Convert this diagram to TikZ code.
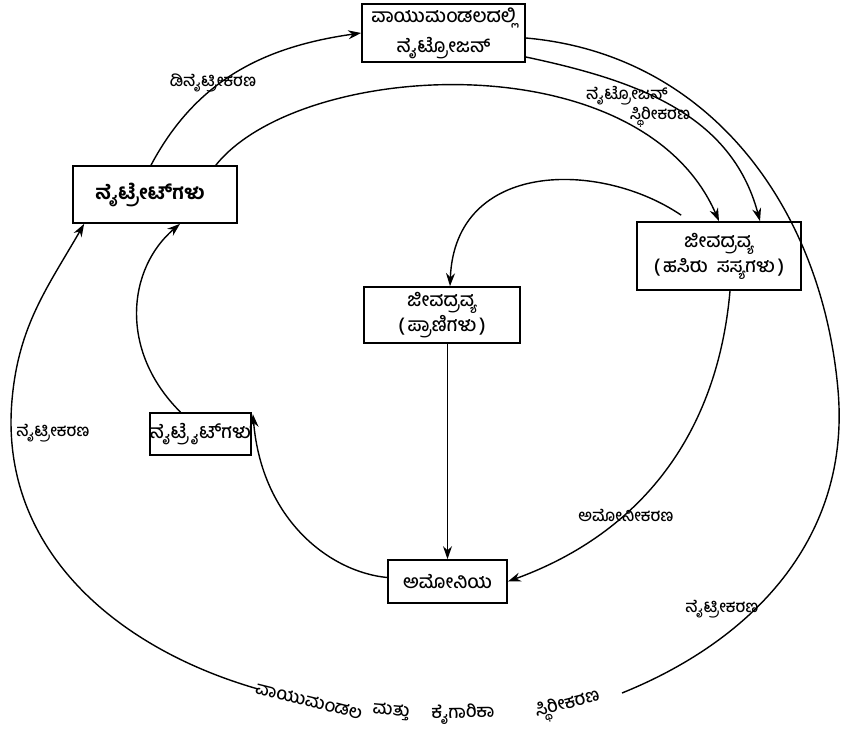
\documentclass[tikz,border=0pt]{standalone}
\usepackage{fontspec}
\newfontfamily\kn[Script=Kannada, UprightFont=* Medium, BoldFont=* Bold]{Hind Mysuru}
\usetikzlibrary{arrows.meta, positioning, calc}

\begin{document}
\begin{tikzpicture}[x=1pt, y=1pt,
    box/.style={draw=black, line width=1.7pt, align=center, inner sep=0pt, font=\kn\fontsize{19}{25}\selectfont},
    lbl/.style={font=\kn\fontsize{16.5}{20}\selectfont, inner sep=1pt},
    arc/.style={font=\kn\fontsize{18}{20}\selectfont, inner sep=0pt},
    flow/.style={-{Stealth[length=13pt, width=9pt]}, line width=1.4pt}]
  \useasboundingbox (0,0) rectangle (842,-738);

  % Boxes
  \node[box, minimum width=163pt, minimum height=58pt] (atmos) at (443.5,-33) {ವಾಯುಮಂಡಲದಲ್ಲಿ\\[5pt]ನೈಟ್ರೋಜನ್};
  \node[box, minimum width=164pt, minimum height=57pt, font=\kn\bfseries\fontsize{19.5}{24}\selectfont] (nitrates) at (155,-194.5) {ನೈಟ್ರೇಟ್‌ಗಳು\hspace{10pt}};
  \node[box, minimum width=164pt, minimum height=68pt] (plants) at (719,-256) {ಜೀವದ್ರವ್ಯ\\(\,ಹಸಿರು\hspace{9pt}ಸಸ್ಯಗಳು\,)};
  \node[box, minimum width=156pt, minimum height=56pt] (animals) at (442,-315) {ಜೀವದ್ರವ್ಯ\\(\,ಪ್ರಾಣಿಗಳು\,)};
  \node[box, minimum width=97pt, minimum height=42pt] (nitrites) at (200.5,-434) {ನೈಟ್ರೈಟ್‌ಗಳು};
  \node[box, minimum width=119pt, minimum height=43pt] (ammonia) at (447.5,-581.5) {ಅಮೋನಿಯ};

  % Labels
  \node[lbl] (deni) at (213,-83) {ಡಿನೈಟ್ರೀಕರಣ};
  \node[lbl] (fixa) at (627,-96) {ನೈಟ್ರೋಜನ್};
  \node[lbl] (fixb) at (660,-117) {ಸ್ಥಿರೀಕರಣ};
  \node[lbl] (nitleft) at (53,-433) {ನೈಟ್ರೀಕರಣ};
  \node[lbl] (amfy) at (626,-515) {ಅಮೋನೀಕರಣ};
  \node[lbl] (nitright) at (722,-609) {ನೈಟ್ರೀಕರಣ};

  % Outer cycle, broken by its label at the bottom
  \coordinate (gapR) at (622,-693);
  \coordinate (gapL) at (258,-689);
  \draw[line width=1.4pt] ($(atmos.east)+(0,-5)$) to[out=-5,in=95] (838,-390) to[out=-85,in=22] (gapR);
  \draw[flow] (gapL) to[out=164,in=-95] (12,-400) to[out=85,in=-120] ($(nitrates.south west)+(12,0)$);
  \node[arc, rotate=-14] (ind1) at (309,-701) {ವಾಯುಮಂಡಲ};
  \node[arc, rotate=-5] (ind2) at (391,-712) {ಮತ್ತು};
  \node[arc, rotate=1] (ind3) at (463,-714) {ಕೈಗಾರಿಕಾ};
  \node[arc, rotate=14] (ind4) at (568,-706) {ಸ್ಥಿರೀಕರಣ};

  % Inner connectors
  \draw[flow] ($(nitrates.north)+(-4,0)$) to[out=62,in=188] (atmos.west);
  \draw[flow] ($(nitrates.north east)+(-22,0)$) .. controls (300,-60) and (640,-40) .. (plants.north);
  \draw[flow] ($(atmos.east)+(0,-24)$) to[out=-12,in=105] ($(plants.north)+(41,0)$);
  \draw[flow] ($(plants.north west)+(45,6)$) .. controls (600,-160) and (455,-160) .. ($(animals.north)+(8,0)$);
  \draw[flow] (animals.south -| ammonia.north) -- (ammonia.north);
  \draw[flow] ($(plants.south)+(11,0)$) to[out=-95,in=20] (ammonia.east);
  \draw[flow] ($(ammonia.west)+(0,4)$) .. controls (330,-572) and (262,-520) .. ($(nitrites.north east)+(1,-2)$);
  \draw[flow] ($(nitrites.north)+(-20,0)$) .. controls (118,-350) and (128,-268) .. ($(nitrates.south)+(25,0)$);
\end{tikzpicture}
\end{document}
